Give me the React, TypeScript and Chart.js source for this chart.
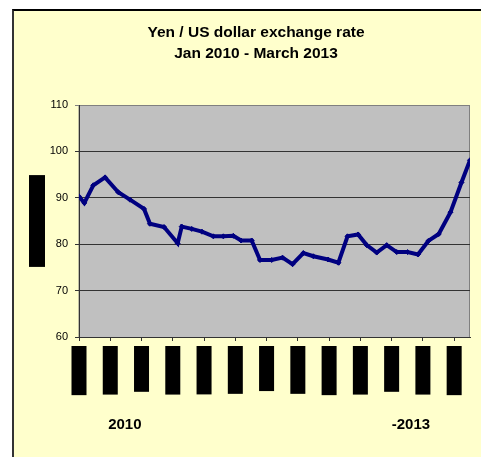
import React, { useEffect, useRef } from "react";
import { Chart, registerables } from "chart.js";

Chart.register(...registerables);

const monthOffsets = [
  0, 0.51, 1.37, 2.5, 3.77, 4.89, 6.24, 6.81, 8.16, 9.47, 9.86, 10.82, 11.8,
  12.89, 13.85, 14.81, 15.55, 16.57, 17.37, 18.49, 19.53, 20.49, 21.53, 22.49,
  23.9, 24.89, 25.77, 26.78, 27.61, 28.57, 29.53, 30.49, 31.53, 32.53, 33.52,
  34.52, 35.65, 36.7, 37.52,
];

// Yen per US dollar
const yenPerDollar = [
  90.3, 88.9, 92.7, 94.4, 91.2, 89.6, 87.6, 84.4, 83.7, 80.2, 83.8, 83.3, 82.7,
  81.7, 81.7, 81.8, 80.8, 80.8, 76.6, 76.6, 77.1, 75.7, 78.1, 77.4, 76.7, 76.0,
  81.7, 82.1, 79.8, 78.2, 79.8, 78.3, 78.3, 77.8, 80.7, 82.2, 86.9, 93.3, 98.1,
];

const tickLabels = [
  "Jan 2010", "Apr 2010", "Jul 2010", "Oct 2010",
  "Jan 2011", "Apr 2011", "Jul 2011", "Oct 2011",
  "Jan 2012", "Apr 2012", "Jul 2012", "Oct 2012",
  "Jan 2013",
];

const titleLines = ["Yen / US dollar exchange rate", "Jan 2010 - March 2013"];
const yAxisTitle = "Yen per US dollar";
const footerLabels = ["2010", "-2013"];

const FONT = "'Liberation Sans', Arial, Helvetica, sans-serif";
const Y_TITLE_PAD = 16.4;
const Y_TITLE_SIZE = 11;

export default function App() {
  const ref = useRef<HTMLCanvasElement>(null);

  useEffect(() => {
    if (!ref.current) return;

    const decor = {
      id: "decor",
      beforeDraw(chart: any) {
        const { ctx, chartArea: a } = chart;
        ctx.save();
        ctx.fillStyle = "#C0C0C0";
        ctx.fillRect(a.left, a.top, a.width, a.height);
        ctx.strokeStyle = "#808080";
        ctx.lineWidth = 1;
        ctx.strokeRect(a.left, a.top + 0.5, a.width - 0.5, a.height);
        // black box behind the y-axis title
        const ys = chart.scales.y;
        ctx.font = `${Y_TITLE_SIZE}px ${FONT}`;
        const tw = ctx.measureText(yAxisTitle).width;
        const cx = ys.left + Y_TITLE_PAD + (Y_TITLE_SIZE * 1.2) / 2;
        const cy = (a.top + a.bottom) / 2;
        ctx.fillStyle = "#000";
        ctx.fillRect(cx - 8, cy - tw / 2 - 3, 16, tw + 6);
        ctx.restore();
      },
      afterDraw(chart: any) {
        const { ctx, chartArea: a } = chart;
        const xs = chart.scales.x;
        ctx.save();
        ctx.font = `bold 15px ${FONT}`;
        ctx.fillStyle = "#000";
        ctx.textAlign = "center";
        ctx.textBaseline = "alphabetic";
        ctx.fillText(footerLabels[0], xs.getPixelForValue(4.4), a.bottom + 92);
        ctx.fillText(footerLabels[1], xs.getPixelForValue(31.85), a.bottom + 92);
        ctx.restore();
      },
    };

    const chart = new Chart(ref.current, {
      type: "line",
      data: {
        datasets: [
          {
            data: monthOffsets.map((m, i) => ({ x: m, y: yenPerDollar[i] })),
            borderColor: "#000080",
            backgroundColor: "#000080",
            borderWidth: 4,
            pointStyle: "rectRot",
            pointRadius: 2.5,
            pointBorderWidth: 1,
            tension: 0,
            fill: false,
          },
        ],
      },
      options: {
        responsive: false,
        animation: false,
        devicePixelRatio: 1,
        layout: { padding: 0 },
        plugins: {
          legend: { display: false },
          tooltip: { enabled: false },
          title: {
            display: true,
            text: titleLines,
            color: "#000",
            font: { family: FONT, size: 15.5, weight: "bold", lineHeight: 1.355 },
            padding: { top: 11.5, bottom: 40.5 },
          },
        },
        scales: {
          x: {
            type: "linear",
            min: 0,
            max: 37.52,
            afterFit: (s: any) => {
              s.height = 120;
            },
            grid: { drawOnChartArea: false, drawTicks: true, tickLength: 4, color: "#333" },
            border: { color: "#333", width: 1 },
            ticks: {
              stepSize: 3,
              includeBounds: false,
              autoSkip: false,
              minRotation: 90,
              maxRotation: 90,
              padding: 9,
              labelOffset: -6,
              color: "#000",
              font: { family: FONT, size: 10 },
              showLabelBackdrop: true,
              backdropColor: "#000",
              backdropPadding: { top: 1.5, bottom: 1.5, left: 4, right: 4 },
              callback: (v: any) => tickLabels[Math.round(Number(v) / 3)] ?? "",
            },
          },
          y: {
            min: 60,
            max: 110,
            afterFit: (s: any) => {
              s.width = 65;
            },
            ticks: {
              stepSize: 10,
              padding: 7,
              color: "#000",
              font: { family: FONT, size: 11 },
            },
            grid: {
              color: (c: any) => (c.tick && c.tick.value === 110 ? "#808080" : "#333"),
              tickLength: 4,
            },
            border: { color: "#333" },
            title: {
              display: true,
              text: yAxisTitle,
              color: "#000",
              font: { family: FONT, size: Y_TITLE_SIZE },
              padding: { top: Y_TITLE_PAD, bottom: 0 },
            },
          },
          // empty right-hand margin axis so the title stays centred on the whole chart
          yMargin: {
            type: "linear",
            position: "right",
            display: true,
            min: 60,
            max: 110,
            afterFit: (s: any) => {
              s.width = 28;
            },
            ticks: { display: false },
            grid: { display: false, drawTicks: false },
            border: { display: false },
          },
        },
      },
      plugins: [decor],
    } as any);

    return () => chart.destroy();
  }, []);

  return (
    <div
      style={{
        position: "fixed",
        left: 0,
        top: 0,
        width: 481,
        height: 457,
        overflow: "hidden",
        background: "#fff",
      }}
    >
      <div
        style={{
          position: "absolute",
          left: 12,
          top: 9,
          width: 484,
          height: 446,
          borderLeft: "2px solid #333",
          borderTop: "2px solid #000",
          background: "#FFFFCC",
        }}
      >
        <canvas ref={ref} width={484} height={446} style={{ display: "block", width: 484, height: 446 }} />
      </div>
    </div>
  );
}
